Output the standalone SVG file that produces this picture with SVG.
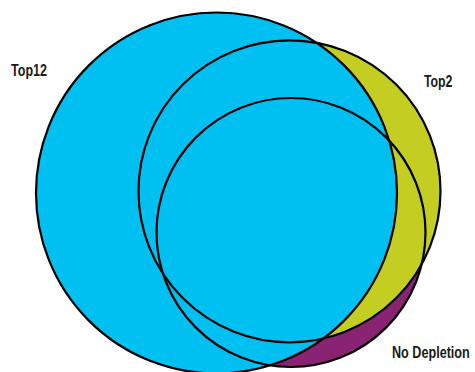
<svg xmlns="http://www.w3.org/2000/svg" width="475" height="372" viewBox="0 0 475 372">
<style>
.lbl{font-family:"Liberation Sans",Arial,sans-serif;font-size:16.5px;font-weight:bold;fill:#1a1a1a}
.o{fill:none;stroke:#000;stroke-width:2.2}
</style>
<rect width="475" height="372" fill="#fff"/>
<g id="fills">
<circle cx="291" cy="232.5" r="134.5" fill="#8B2373"/>
<circle cx="289.5" cy="191.3" r="151" fill="#C3CD22"/>
<circle cx="216.5" cy="193" r="180.5" fill="#00C0F2"/>
</g>
<g id="node-top12">
<circle class="o" cx="216.5" cy="193" r="180.5"/>
<text class="lbl" transform="translate(11,76) scale(0.76,1)">Top12</text>
</g>
<g id="node-top2">
<circle class="o" cx="289.5" cy="191.3" r="151"/>
<text class="lbl" transform="translate(424,87) scale(0.745,1)">Top2</text>
</g>
<g id="node-nodepletion">
<circle class="o" cx="291" cy="232.5" r="134.5"/>
<text class="lbl" transform="translate(392,358) scale(0.765,1)">No Depletion</text>
</g>
<g id="connectors"/>
</svg>
